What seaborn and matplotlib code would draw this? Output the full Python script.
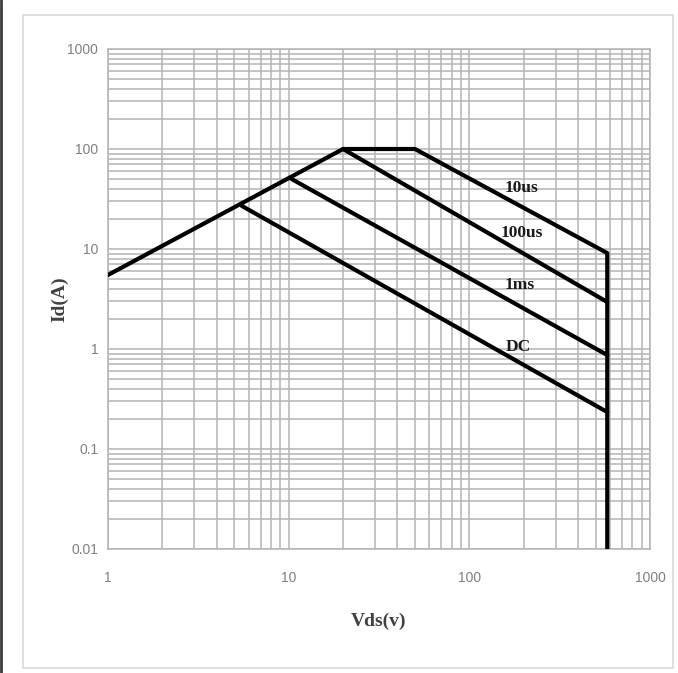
import numpy as np
import pandas as pd
import matplotlib
matplotlib.use("Agg")
import matplotlib.pyplot as plt
from matplotlib.ticker import FixedLocator, NullFormatter, LogLocator
from matplotlib.patches import Rectangle
from matplotlib.lines import Line2D
import seaborn as sns

# outer limit: Rds(on) line, 100A plateau, 10us line, then the Vds max drop
limit_v = [1, 20, 50, 580, 580]
limit_i = [5.5, 100, 100, 9.1, 0.01]

# pulse lines (start on the Rds(on) line, end at Vds max)
v_100us = [20, 580]
i_100us = [100, 2.95]
v_1ms = [10.4, 580]
i_1ms = [50, 0.87]
v_dc = [5.5, 580]
i_dc = [27, 0.234]

curve_names = ["10us", "100us", "1ms", "DC"]
name_v = [195, 195, 190, 186]
name_i = [40.7, 14.5, 4.37, 1.05]

x_ticks = [1, 10, 100, 1000]
x_labels = ["1", "10", "100", "1000"]
y_ticks = [0.01, 0.1, 1, 10, 100, 1000]
y_labels = ["0.01", "0.1", "1", "10", "100", "1000"]

sns.set_theme(style="whitegrid")
plt.rcParams['font.family'] = ['Liberation Serif', 'DejaVu Serif']

fig = plt.figure(figsize=(6.78, 6.73), dpi=100)
fig.patch.set_facecolor("white")
ax = fig.add_axes([108/678, 1-549/673, 542/678, 500/673])

grid_col = "#b4b4b4"
ax.set_xscale("log")
ax.set_yscale("log")

for vv, ii in [(limit_v, limit_i), (v_100us, i_100us), (v_1ms, i_1ms), (v_dc, i_dc)]:
    d = pd.DataFrame({"v": vv, "i": ii})
    sns.lineplot(data=d, x="v", y="i", estimator=None, sort=False,
                 color="black", lw=3, ax=ax, zorder=5)

ax.set_xlim(1, 1000)
ax.set_ylim(0.01, 1000)
ax.xaxis.set_major_locator(FixedLocator(x_ticks))
ax.set_xticklabels(x_labels)
ax.yaxis.set_major_locator(FixedLocator(y_ticks))
ax.set_yticklabels(y_labels)
ax.xaxis.set_minor_locator(LogLocator(base=10, subs=np.arange(2, 10), numticks=20))
ax.yaxis.set_minor_locator(LogLocator(base=10, subs=np.arange(2, 10), numticks=20))
ax.xaxis.set_minor_formatter(NullFormatter())
ax.yaxis.set_minor_formatter(NullFormatter())
ax.grid(True, which="major", color=grid_col, lw=1.1)
ax.grid(True, which="minor", color=grid_col, lw=1.1)
ax.tick_params(which="both", length=0, labelsize=10, labelcolor="#808080")
ax.tick_params(axis="x", pad=16)
ax.tick_params(axis="y", pad=7)
for lab in ax.get_xticklabels() + ax.get_yticklabels():
    lab.set_family("Liberation Sans")
for s in ax.spines.values():
    s.set_color(grid_col)
    s.set_linewidth(1.1)

for name, v, i in zip(curve_names, name_v, name_i):
    ax.text(v, i, name, ha="center", va="center", fontsize=12.5,
            fontweight="bold", color="#1a1a1a", zorder=6)

ax.set_xlabel("Vds(v)", fontsize=14, fontweight="bold", color="#404040", labelpad=20)
ax.set_ylabel("Id(A)", fontsize=14, fontweight="bold", color="#404040", labelpad=-1)

# chart frame and the dark strip on the left edge
fig.patches.append(Rectangle((23/678, 1-668/673), 650/678, 653/673, transform=fig.transFigure,
                             fill=False, edgecolor="#d9d9d9", lw=1.2))
fig.lines.append(Line2D([1/678, 1/678], [0, 1], transform=fig.transFigure, color="#3c3c3c", lw=2))

fig.savefig("out.png", dpi=100)
